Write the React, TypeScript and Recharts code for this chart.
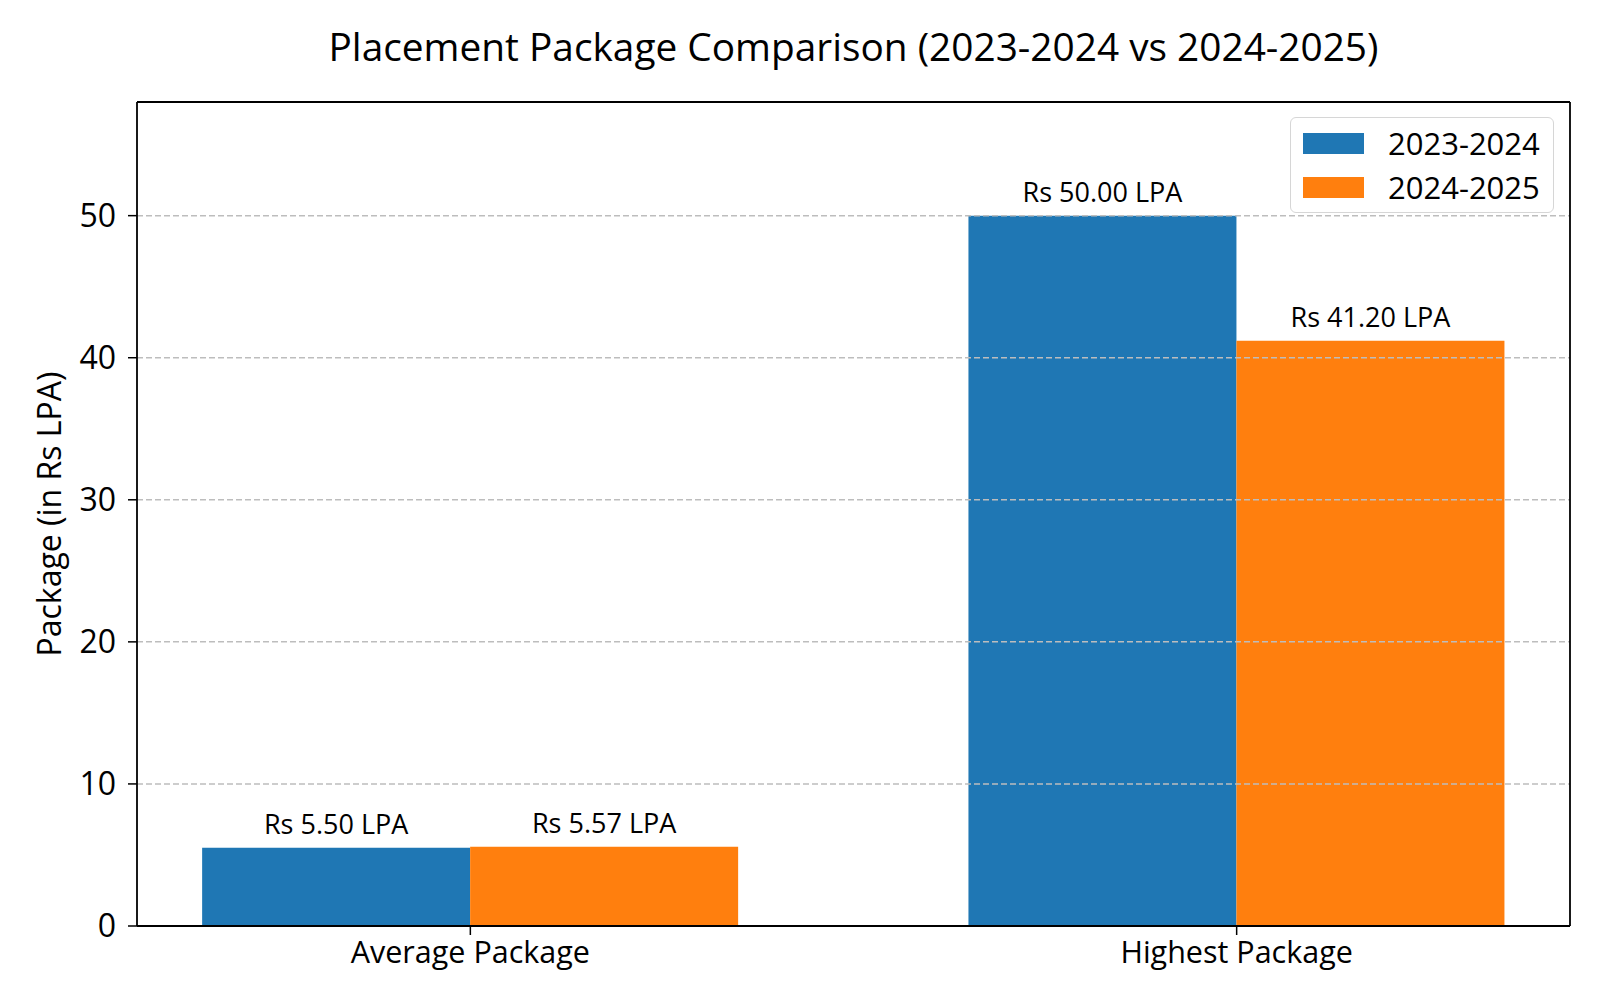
import React from "react";
import {
  BarChart,
  Bar,
  XAxis,
  YAxis,
  ReferenceLine,
  LabelList,
  Legend,
} from "recharts";

const categories = ["Average Package", "Highest Package"];
const seriesNames = ["2023-2024", "2024-2025"];
const pkg2023 = [5.5, 50.0];
const pkg2024 = [5.57, 41.2];
const yTicks = [0, 10, 20, 30, 40, 50];

const colors = ["#1f77b4", "#ff7f0e"];
const font = "'Open Sans', sans-serif";
const xDomain = [-0.435, 1.435];
const yDomain = [0, 58];

const data = categories.map((name, i) => ({
  pos: i,
  name,
  a: pkg2023[i],
  b: pkg2024[i],
}));

const fmt = (v: number) => `Rs ${Number(v).toFixed(2)} LPA`;

function LegendBox() {
  return (
    <div
      style={{
        border: "1.5px solid #d6d6d6",
        borderRadius: 6,
        background: "rgba(255,255,255,0.85)",
        padding: "3px 12px 3px 12px",
        fontFamily: font,
        fontSize: 31,
        color: "#000",
        boxSizing: "border-box",
      }}
    >
      {seriesNames.map((s, i) => (
        <div
          key={s}
          style={{ display: "flex", alignItems: "center", height: 44 }}
        >
          <span
            style={{
              display: "inline-block",
              width: 61,
              height: 21,
              background: colors[i],
              marginRight: 24,
            }}
          />
          <span>{s}</span>
        </div>
      ))}
    </div>
  );
}

export default function App() {
  return (
    <div
      style={{
        position: "absolute",
        left: 0,
        top: 0,
        width: 1600,
        height: 1000,
        background: "#fff",
      }}
    >
      <div
        style={{
          position: "absolute",
          left: 137,
          width: 1433,
          top: 21,
          textAlign: "center",
          fontFamily: font,
          fontSize: 38.8,
          lineHeight: "50px",
          color: "#000",
        }}
      >
        Placement Package Comparison (2023-2024 vs 2024-2025)
      </div>
      <BarChart
        width={1600}
        height={1000}
        data={data}
        margin={{ top: 102, right: 30, bottom: 34, left: 17 }}
        barCategoryGap="15%"
        barGap={0}
      >
        <XAxis
          dataKey="pos"
          type="number"
          domain={xDomain}
          ticks={[0, 1]}
          allowDataOverflow
          height={40}
          tickFormatter={(v: number) => categories[v]}
          axisLine={{ stroke: "#000", strokeWidth: 1.8 }}
          tickLine={{ stroke: "#000", strokeWidth: 1.5 }}
          tickSize={9}
          tickMargin={6}
          tick={{ fill: "#000", fontSize: 30.5, fontFamily: font }}
        />
        <YAxis
          type="number"
          domain={yDomain}
          ticks={yTicks}
          allowDataOverflow
          width={120}
          axisLine={{ stroke: "#000", strokeWidth: 1.8 }}
          tickLine={{ stroke: "#000", strokeWidth: 1.5 }}
          tickSize={9}
          tickMargin={12}
          tick={{ fill: "#000", fontSize: 32, fontFamily: font }}
          label={{
            content: (props: any) => {
              const vb = props.viewBox || {};
              const x = vb.x + 31;
              const y = vb.y + vb.height / 2;
              return (
                <text
                  x={x}
                  y={y}
                  transform={`rotate(-90 ${x} ${y})`}
                  textAnchor="middle"
                  dominantBaseline="central"
                  fill="#000"
                  fontSize={32}
                  fontFamily={font}
                >
                  Package (in Rs LPA)
                </text>
              );
            },
          }}
        />
        <Legend
          layout="vertical"
          align="center"
          verticalAlign="middle"
          wrapperStyle={{ left: 1290, top: 117, width: 264 }}
          content={() => <LegendBox />}
        />
        <Bar
          dataKey="a"
          name={seriesNames[0]}
          fill={colors[0]}
          isAnimationActive={false}
        >
          <LabelList
            dataKey="a"
            position="top"
            offset={14}
            formatter={fmt}
            fill="#000"
            fontSize={27}
            fontFamily={font}
          />
        </Bar>
        <Bar
          dataKey="b"
          name={seriesNames[1]}
          fill={colors[1]}
          isAnimationActive={false}
        >
          <LabelList
            dataKey="b"
            position="top"
            offset={14}
            formatter={fmt}
            fill="#000"
            fontSize={27}
            fontFamily={font}
          />
        </Bar>
        {yTicks.slice(1).map((t) => (
          <ReferenceLine
            key={t}
            y={t}
            stroke="#bdbdbd"
            strokeWidth={1.5}
            strokeDasharray="6 3"
          />
        ))}
        <ReferenceLine y={yDomain[1]} stroke="#000" strokeWidth={1.8} />
        <ReferenceLine x={xDomain[1]} stroke="#000" strokeWidth={1.8} />
      </BarChart>
    </div>
  );
}
